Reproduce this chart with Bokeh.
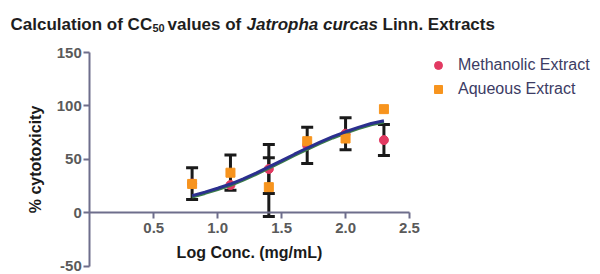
from bokeh.plotting import figure
from bokeh.models import (ColumnDataSource, Range1d, FixedTicker, NumeralTickFormatter,
                          Whisker, TeeHead, Label, Legend, LegendItem)
from bokeh.embed import file_html
from bokeh.resources import INLINE

# ---- data ----
log_conc = [0.8, 1.1, 1.4, 1.7, 2.0, 2.3]
methanolic = [27.3, 26, 41, 63, 74, 68]
methanolic_err = [14.8, 0, 23, 17, 15, 14.5]
aqueous = [27, 37.5, 24, 67, 69.5, 97]
aqueous_err = [0, 16.5, 27.5, 0, 0, 0]

fit_x = [0.8, 0.9, 1.0, 1.1, 1.2, 1.3, 1.4, 1.5, 1.6, 1.7, 1.8, 1.9, 2.0, 2.1, 2.2, 2.3]
fit_blue = [16.0, 19.3, 23.0, 26.9, 31.8, 37.2, 42.9, 48.8, 54.8, 60.6, 66.1, 71.2, 75.8, 79.9, 83.5, 86.2]
fit_green = [14.8, 18.1, 21.8, 25.7, 30.6, 36.0, 41.7, 47.6, 53.6, 59.4, 64.9, 70.0, 74.6, 78.7, 82.3, 85.0]

x_ticks = [0.5, 1.0, 1.5, 2.0, 2.5]
y_ticks = [-50, 0, 50, 100, 150]
x_axis_bounds = (0, 2.5)
y_axis_bounds = (-50, 150)

FONT = "Liberation Sans"
AXIS_COLOR = "#6e6e8c"

# layout: the frame covers the whole canvas; axes sit at fixed data locations
W, H = 600, 274
X0_PX, X1_PX = 89.3, 409.0      # canvas px of x=0 and x=2.5
Y150_PX, YM50_PX = 52.0, 265.7  # canvas px (from top) of y=150 and y=-50
sx = (X1_PX - X0_PX) / 2.5
sy = (YM50_PX - Y150_PX) / 200.0
x_start = 0 - X0_PX / sx
x_end = 2.5 + (W - X1_PX) / sx
y_end = 150 + Y150_PX / sy
y_start = -50 - (H - YM50_PX) / sy

p = figure(width=W, height=H, output_backend="svg", toolbar_location=None,
           title=None, x_range=Range1d(x_start, x_end), y_range=Range1d(y_start, y_end),
           min_border=0)
p.outline_line_color = None
p.grid.visible = False
p.background_fill_color = "white"
p.border_fill_color = "white"

for ax in (p.xaxis[0], p.yaxis[0]):
    ax.fixed_location = 0
    ax.axis_line_color = AXIS_COLOR
    ax.axis_line_width = 2
    ax.major_tick_line_color = AXIS_COLOR
    ax.major_tick_line_width = 2
    ax.major_tick_in = 0
    ax.major_tick_out = 6
    ax.minor_tick_line_color = None
    ax.major_label_text_font = FONT
    ax.major_label_text_font_style = "bold"
    ax.major_label_text_font_size = "15px"
    ax.major_label_text_color = "#5a5a5a"
    ax.axis_label_text_font = FONT
    ax.axis_label_text_font_style = "bold"
    ax.axis_label_text_font_size = "16px"
    ax.axis_label_text_color = "#1a1a1a"

p.xaxis.bounds = x_axis_bounds
p.xaxis.ticker = FixedTicker(ticks=x_ticks)
p.xaxis.formatter = NumeralTickFormatter(format="0.0")
p.xaxis.axis_label = "Log Conc. (mg/mL)"
p.xaxis.major_label_standoff = 4
p.xaxis.axis_label_standoff = 8

p.yaxis.bounds = y_axis_bounds
p.yaxis.ticker = FixedTicker(ticks=y_ticks)
p.yaxis.formatter = NumeralTickFormatter(format="0")
p.yaxis.axis_label = "% cytotoxicity"
p.yaxis.major_label_standoff = 2
p.yaxis.axis_label_standoff = 9

# error bars
def bars(xs, ys, errs):
    bx = [x for x, e in zip(xs, errs) if e > 0]
    lo = [y - e for y, e in zip(ys, errs) if e > 0]
    hi = [y + e for y, e in zip(ys, errs) if e > 0]
    return ColumnDataSource(dict(x=bx, lower=lo, upper=hi))

for src in (bars(log_conc, methanolic, methanolic_err), bars(log_conc, aqueous, aqueous_err)):
    w = Whisker(source=src, base="x", lower="lower", upper="upper", dimension="height",
                line_color="#1a1a1a", line_width=3,
                upper_head=TeeHead(size=12, line_width=3, line_color="#1a1a1a"),
                lower_head=TeeHead(size=12, line_width=3, line_color="#1a1a1a"))
    p.add_layout(w)

src_m = ColumnDataSource(dict(x=log_conc, y=methanolic))
src_a = ColumnDataSource(dict(x=log_conc, y=aqueous))

r_m = p.scatter("x", "y", source=src_m, marker="circle", size=9,
                fill_color="#e23a62", line_color="#e23a62")
p.line(fit_x, fit_green, line_color="#3b7d4a", line_width=3)
r_a = p.scatter("x", "y", source=src_a, marker="square", size=9,
                fill_color="#f7941e", line_color="#f7941e")
p.line(fit_x, fit_blue, line_color="#2b2f8f", line_width=3)

legend = Legend(items=[LegendItem(label="Methanolic Extract", renderers=[r_m]),
                       LegendItem(label="Aqueous Extract", renderers=[r_a])],
                location=(428, H - 99), padding=0, margin=0, spacing=4,
                glyph_width=20, glyph_height=20, label_height=20, label_standoff=10,
                border_line_color=None, background_fill_alpha=0,
                label_text_font=FONT, label_text_font_size="16px",
                label_text_color="#3c3c64")
p.add_layout(legend)

# title made of styled pieces (screen coords, frame == canvas)
def title_piece(text, x, base_y, size, style):
    p.add_layout(Label(x=x, y=H - base_y, x_units="screen", y_units="screen",
                       text=text, text_font=FONT, text_font_size=size,
                       text_font_style=style, text_color="#1e1e1e",
                       text_baseline="alphabetic", text_align="left"))

title_piece("Calculation of CC", 10, 23.5, "17px", "bold")
title_piece("50", 152, 27, "11px", "bold")
title_piece("values of", 167, 23.5, "17px", "bold")
title_piece("Jatropha curcas", 246, 23.5, "17px", "bold italic")
title_piece("Linn. Extracts", 382, 23.5, "17px", "bold")

open("out.html", "w").write(file_html(p, INLINE))
